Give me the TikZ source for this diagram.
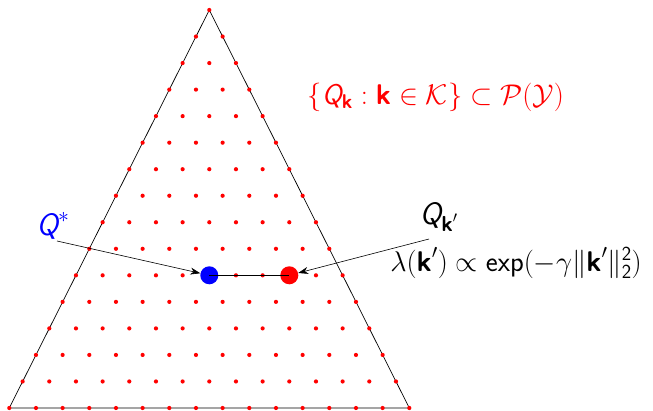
\RequirePackage{fix-cm}
\documentclass[tikz,border=0pt]{standalone}
\usepackage{amsmath,amssymb}
\usetikzlibrary{arrows.meta}
\newcommand{\sQ}{\text{\sffamily\itshape Q}}
\newcommand{\bk}{\text{\sffamily\bfseries k}}
\newcommand{\sexp}{\text{\sffamily exp}}
\newcommand{\stwo}{\text{\sffamily 2}}
\begin{document}
\begin{tikzpicture}[x=1pt,y=-1pt,
  dot/.style={circle,fill=red,inner sep=0pt,minimum size=4.2pt},
  bigdot/.style={circle,inner sep=0pt,minimum size=18pt},
  lab/.style={font=\fontsize{28.5}{32}\selectfont,inner sep=0pt},
  arr/.style={-{Stealth[length=10pt,width=7pt]},line width=0.6pt}]
\useasboundingbox (0,0) rectangle (653,411);
\coordinate (A) at (209.3,10);
\coordinate (B) at (9.3,408);
\coordinate (C) at (409.3,408);
\draw[line width=0.7pt] (A) -- (B) -- (C) -- cycle;
\foreach \j in {0,...,15}{
  \pgfmathtruncatemacro{\n}{15-\j}
  \foreach \i in {0,...,\n}{
    \node[dot] (d-\j-\i) at ({9.3+\j*13.333+\i*26.667},{408-\j*26.533}) {};
  }
}
\node[bigdot,fill=blue] (qs) at (209.3,275.3) {};
\node[bigdot,fill=red] (qk) at (289.3,275.3) {};
\draw[line width=0.7pt] (qs.center) -- (qk.center);
\node[lab,text=blue,font=\fontsize{31}{34}\selectfont] (qlab) at (53,226) {$\sQ^{*}$};
\coordinate (qsstart) at (57,241);
\draw[arr] (qsstart) -- (qs);
\node[lab,font=\fontsize{31}{34}\selectfont] (qklab) at (439,217) {$\sQ_{\bk'}$};
\coordinate (qkstart) at (429,239);
\draw[arr] (qkstart) -- (qk);
\node[lab] (lam) at (516,263) {$\lambda(\bk')\propto\sexp(-\gamma\|\bk'\|_{\stwo}^{\stwo})$};
\node[lab,text=red] (set) at (436,97) {$\{\sQ_{\bk}:\bk\in\mathcal{K}\}\subset\mathcal{P}(\mathcal{Y})$};
\end{tikzpicture}
\end{document}
